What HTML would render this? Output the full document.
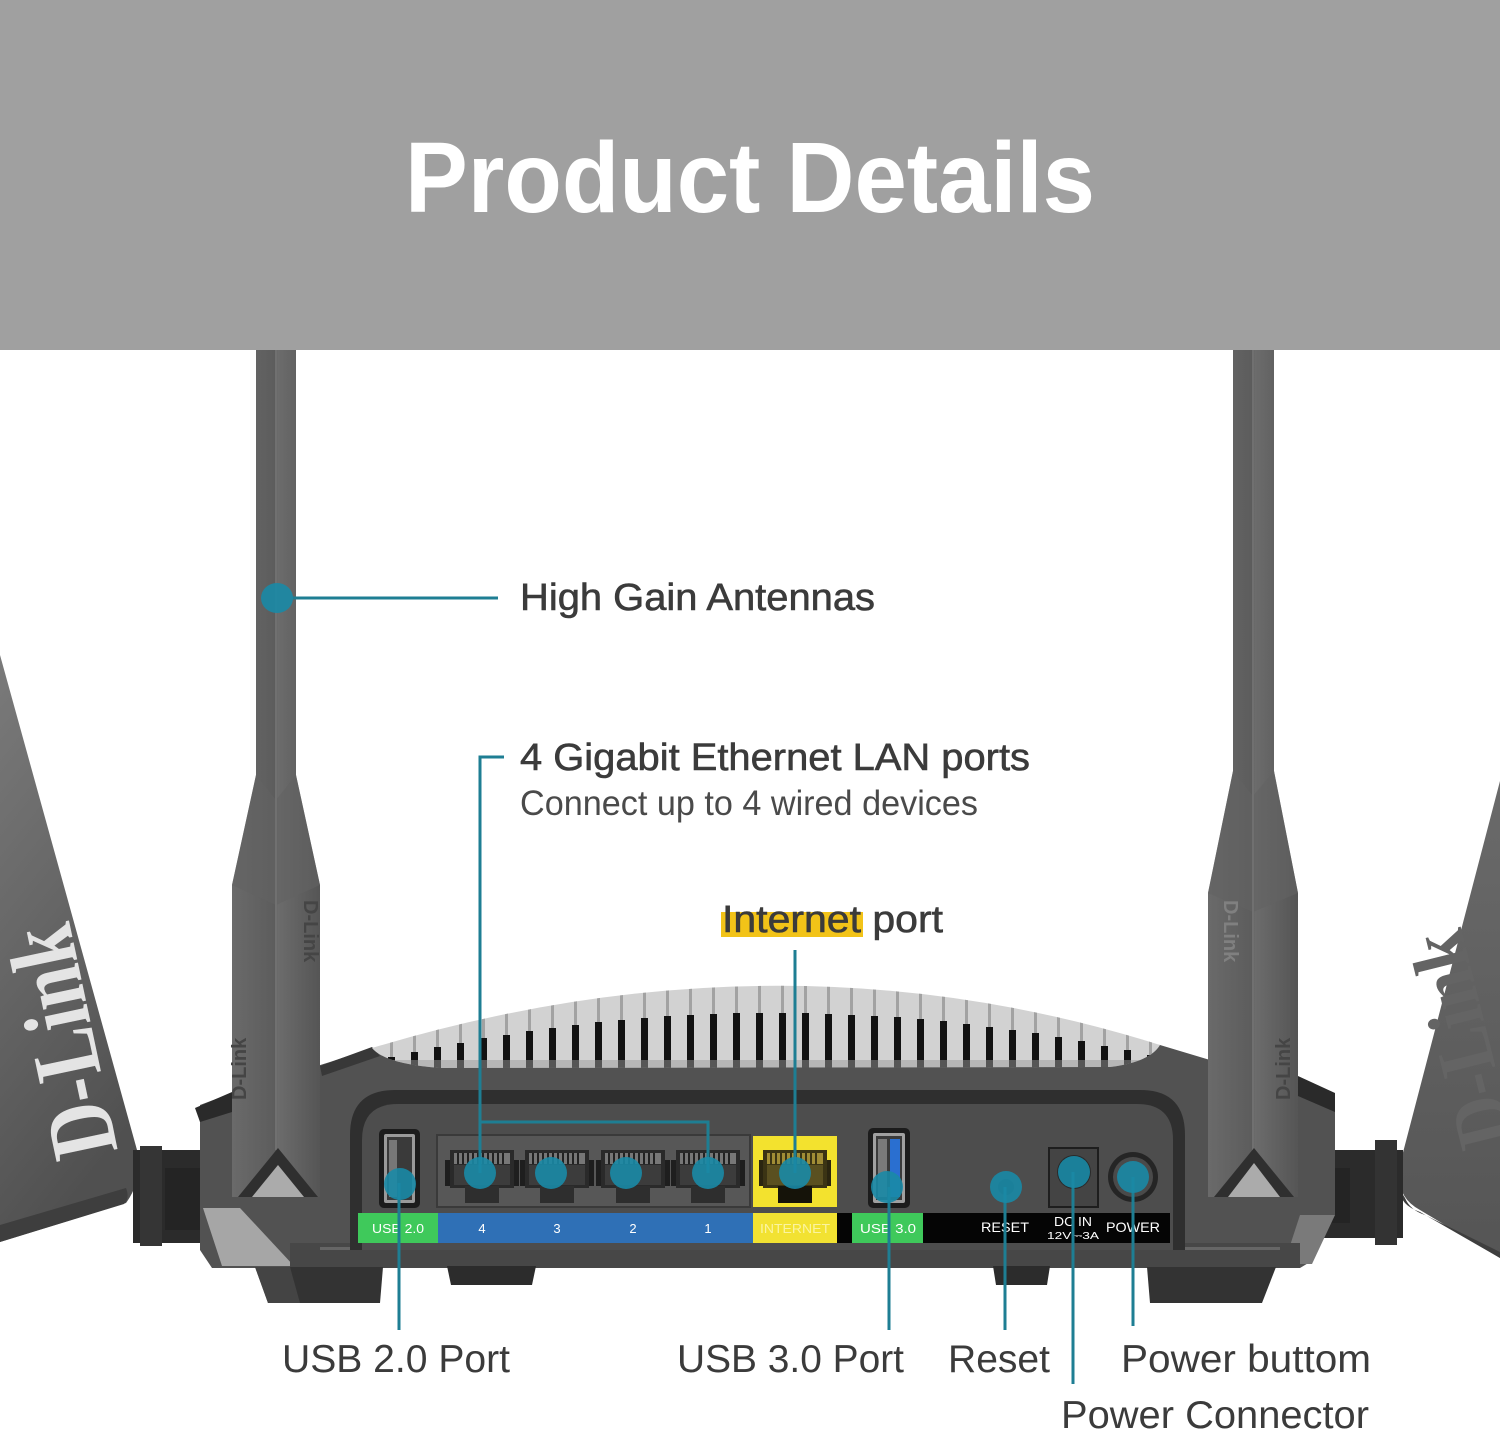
<!DOCTYPE html>
<html><head><meta charset="utf-8"><style>
html,body{margin:0;padding:0;background:#fff;}
svg{display:block;font-family:"Liberation Sans",Arial,sans-serif;}
</style></head><body>
<svg width="1500" height="1431" viewBox="0 0 1500 1431" xmlns="http://www.w3.org/2000/svg">
<defs>
<linearGradient id="lp" x1="0" y1="0" x2="0.3" y2="1"><stop offset="0" stop-color="#7a7a7a"/><stop offset="0.45" stop-color="#686868"/><stop offset="1" stop-color="#505050"/></linearGradient>
<linearGradient id="rp" x1="0" y1="0" x2="0" y2="1"><stop offset="0" stop-color="#6a6a6a"/><stop offset="1" stop-color="#555"/></linearGradient>
<linearGradient id="ant" x1="0" y1="0" x2="1" y2="0"><stop offset="0" stop-color="#6a6a6a"/><stop offset="0.5" stop-color="#5c5c5c"/><stop offset="0.52" stop-color="#6c6c6c"/><stop offset="1" stop-color="#555"/></linearGradient>
<clipPath id="dome"><path d="M372,1048 Q780,925 1160,1045 Q1150,1062 1110,1067 L440,1068 Q385,1064 372,1048 Z"/></clipPath>
<g id="jack">
<rect x="-37" y="1160" width="5" height="26" fill="#1e1e1e"/>
<rect x="32" y="1160" width="5" height="26" fill="#1e1e1e"/>
<rect x="-32" y="1150" width="64" height="38" fill="#2a2a2a"/>
<rect x="-28" y="1153" width="56" height="11" fill="#777"/>
<path d="M-24,1153V1164M-19,1153V1164M-14,1153V1164M-9,1153V1164M-4,1153V1164M1,1153V1164M6,1153V1164M11,1153V1164M16,1153V1164M21,1153V1164" stroke="#222" stroke-width="2"/>
<rect x="-28" y="1165" width="56" height="20" fill="#3c3c3c"/>
<rect x="-17" y="1186" width="34" height="17" fill="#2e2e2e"/>
</g>
</defs>

<!-- banner -->
<rect x="0" y="0" width="1500" height="350" fill="#a0a0a0"/>
<text x="405" y="212" font-size="100" font-weight="bold" fill="#fff" textLength="690" lengthAdjust="spacingAndGlyphs">Product Details</text>

<!-- left paddle antenna -->
<path d="M0,655 L137,1150 Q143,1180 126,1203 L0,1242 Z" fill="url(#lp)"/>
<path d="M0,1225 L126,1188 Q130,1198 124,1204 L0,1242 Z" fill="#3e3e3e"/>
<text transform="translate(62,1042) rotate(-102)" x="0" y="32" text-anchor="middle" font-family="'Liberation Serif','DejaVu Serif',serif" font-weight="bold" font-size="95" fill="#e4e4e4" textLength="235" lengthAdjust="spacingAndGlyphs">D-Link</text>
<!-- left hinge -->
<rect x="133" y="1150" width="67" height="93" fill="#2b2b2b"/>
<rect x="140" y="1146" width="22" height="100" fill="#353535"/>
<rect x="165" y="1168" width="35" height="62" fill="#242424"/>

<!-- right paddle antenna -->
<path d="M1500,781 L1400,1164 Q1394,1196 1420,1210 L1500,1258 Z" fill="url(#rp)"/>
<path d="M1405,1198 Q1410,1210 1425,1215 L1500,1252 L1500,1258 L1420,1212 Q1400,1205 1400,1190 Z" fill="#3e3e3e"/>
<text transform="translate(1460,1040) rotate(-104)" x="0" y="28" text-anchor="middle" font-family="'Liberation Serif','DejaVu Serif',serif" font-weight="bold" font-size="80" fill="#646464" textLength="220" lengthAdjust="spacingAndGlyphs">D-Link</text>
<!-- right hinge -->
<rect x="1300" y="1150" width="103" height="88" fill="#2b2b2b"/>
<rect x="1375" y="1140" width="22" height="105" fill="#333"/>
<rect x="1310" y="1168" width="40" height="55" fill="#242424"/>

<!-- body -->
<path d="M200,1105 L240,1090 L330,1062 L372,1048 L780,1000 L1160,1045 L1210,1060 L1300,1078 L1335,1095 L1335,1215 L1310,1262 L1300,1268 L212,1268 L200,1250 Z" fill="#525252"/>
<path d="M195,1108 L232,1092 L232,1112 L200,1122 Z" fill="#2a2a2a"/>
<path d="M1298,1076 L1335,1093 L1335,1112 L1298,1096 Z" fill="#2a2a2a"/>
<path d="M320,1066 L372,1047 L380,1056 L322,1076 Z" fill="#383838"/>
<!-- lower bevels -->
<path d="M203,1208 L240,1208 L294,1266 L222,1266 Z" fill="#a6a6a6"/>
<path d="M1300,1215 L1335,1215 L1312,1264 L1284,1264 Z" fill="#7a7a7a"/>
<rect x="290" y="1243" width="1010" height="25" fill="#474747"/>
<rect x="320" y="1247" width="960" height="3" fill="#666"/>
<!-- feet -->
<path d="M255,1267 L383,1267 L380,1303 L268,1303 Z" fill="#333"/>
<path d="M255,1267 L290,1267 L300,1303 L268,1303 Z" fill="#444"/>
<path d="M447,1266 L536,1266 L532,1285 L451,1285 Z" fill="#2c2c2c"/>
<path d="M993,1266 L1050,1266 L1047,1285 L996,1285 Z" fill="#2c2c2c"/>
<path d="M1147,1267 L1276,1267 L1262,1303 L1150,1303 Z" fill="#333"/>

<!-- dome vents -->
<g clip-path="url(#dome)">
<rect x="360" y="920" width="820" height="160" fill="#d2d2d2"/>
<g fill="#a2a2a2">
<rect x="390" y="920" width="3" height="150"/><rect x="413" y="920" width="3" height="150"/><rect x="436" y="920" width="3" height="150"/><rect x="459" y="920" width="3" height="150"/><rect x="482" y="920" width="3" height="150"/><rect x="505" y="920" width="3" height="150"/><rect x="528" y="920" width="3" height="150"/><rect x="551" y="920" width="3" height="150"/><rect x="574" y="920" width="3" height="150"/><rect x="597" y="920" width="3" height="150"/><rect x="620" y="920" width="3" height="150"/><rect x="643" y="920" width="3" height="150"/><rect x="666" y="920" width="3" height="150"/><rect x="689" y="920" width="3" height="150"/><rect x="712" y="920" width="3" height="150"/><rect x="735" y="920" width="3" height="150"/><rect x="758" y="920" width="3" height="150"/><rect x="781" y="920" width="3" height="150"/><rect x="804" y="920" width="3" height="150"/><rect x="827" y="920" width="3" height="150"/><rect x="850" y="920" width="3" height="150"/><rect x="873" y="920" width="3" height="150"/><rect x="896" y="920" width="3" height="150"/><rect x="919" y="920" width="3" height="150"/><rect x="942" y="920" width="3" height="150"/><rect x="965" y="920" width="3" height="150"/><rect x="988" y="920" width="3" height="150"/><rect x="1011" y="920" width="3" height="150"/><rect x="1034" y="920" width="3" height="150"/><rect x="1057" y="920" width="3" height="150"/><rect x="1080" y="920" width="3" height="150"/><rect x="1103" y="920" width="3" height="150"/><rect x="1126" y="920" width="3" height="150"/><rect x="1149" y="920" width="3" height="150"/>
</g>
<g fill="#121212">
<rect x="388" y="1057" width="7" height="11"/><rect x="411" y="1052" width="7" height="16"/><rect x="434" y="1047" width="7" height="21"/><rect x="457" y="1043" width="7" height="25"/><rect x="480" y="1038" width="7" height="30"/><rect x="503" y="1035" width="7" height="33"/><rect x="526" y="1031" width="7" height="37"/><rect x="549" y="1028" width="7" height="40"/><rect x="572" y="1025" width="7" height="43"/><rect x="595" y="1022" width="7" height="46"/><rect x="618" y="1020" width="7" height="48"/><rect x="641" y="1018" width="7" height="50"/><rect x="664" y="1016" width="7" height="52"/><rect x="687" y="1015" width="7" height="53"/><rect x="710" y="1014" width="7" height="54"/><rect x="733" y="1013" width="7" height="55"/><rect x="756" y="1013" width="7" height="55"/><rect x="779" y="1013" width="7" height="55"/><rect x="802" y="1013" width="7" height="55"/><rect x="825" y="1014" width="7" height="54"/><rect x="848" y="1015" width="7" height="53"/><rect x="871" y="1016" width="7" height="52"/><rect x="894" y="1017" width="7" height="51"/><rect x="917" y="1019" width="7" height="49"/><rect x="940" y="1021" width="7" height="47"/><rect x="963" y="1024" width="7" height="44"/><rect x="986" y="1027" width="7" height="41"/><rect x="1009" y="1030" width="7" height="38"/><rect x="1032" y="1033" width="7" height="35"/><rect x="1055" y="1037" width="7" height="31"/><rect x="1078" y="1041" width="7" height="27"/><rect x="1101" y="1046" width="7" height="22"/><rect x="1124" y="1050" width="7" height="18"/><rect x="1147" y="1055" width="7" height="13"/>
</g>
<rect x="360" y="1060" width="820" height="10" fill="#9a9a9a" opacity="0.5"/>
</g>

<!-- back panel -->
<path d="M350,1250 L350,1135 Q350,1090 395,1090 L1140,1090 Q1185,1090 1185,1135 L1185,1250 Z" fill="#2f2f2f"/>
<path d="M362,1250 L362,1140 Q362,1104 398,1104 L1137,1104 Q1173,1104 1173,1140 L1173,1250 Z" fill="#4d4d4d"/>

<!-- USB 2.0 port -->
<rect x="379" y="1129" width="41" height="79" rx="5" fill="#1c1c1c"/>
<rect x="384" y="1134" width="31" height="69" rx="2" fill="#9a9a9a"/>
<rect x="387" y="1137" width="25" height="63" fill="#3a3a3a"/>
<rect x="389" y="1140" width="8" height="57" fill="#777"/>

<!-- LAN block -->
<rect x="437" y="1135" width="313" height="72" fill="#575757" stroke="#3a3a3a" stroke-width="2"/>
<use href="#jack" transform="translate(482,0)"/>
<use href="#jack" transform="translate(557,0)"/>
<use href="#jack" transform="translate(633,0)"/>
<use href="#jack" transform="translate(708,0)"/>

<!-- Internet block -->
<rect x="753" y="1136" width="84" height="71" fill="#f3e22e"/>
<rect x="759" y="1160" width="5" height="26" fill="#2a2510"/>
<rect x="826" y="1160" width="5" height="26" fill="#2a2510"/>
<rect x="763" y="1150" width="64" height="38" fill="#3b3414"/>
<rect x="767" y="1153" width="56" height="11" fill="#a08c35"/>
<path d="M771,1153V1164M776,1153V1164M781,1153V1164M786,1153V1164M791,1153V1164M796,1153V1164M801,1153V1164M806,1153V1164M811,1153V1164M816,1153V1164" stroke="#3b3414" stroke-width="2"/>
<rect x="767" y="1165" width="56" height="20" fill="#5a5020"/>
<rect x="778" y="1186" width="34" height="17" fill="#151309"/>

<!-- USB 3.0 port -->
<rect x="868" y="1128" width="42" height="80" rx="5" fill="#1c1c1c"/>
<rect x="873" y="1133" width="32" height="70" rx="2" fill="#a0a0a0"/>
<rect x="876" y="1136" width="26" height="64" fill="#3a3a3a"/>
<rect x="878" y="1139" width="9" height="58" fill="#7a7a7a"/>
<rect x="890" y="1139" width="10" height="58" fill="#2a6fd0"/>

<!-- reset / dc / power -->
<circle cx="1006" cy="1187" r="8" fill="#2a2a2a"/>
<rect x="1049" y="1148" width="49" height="59" fill="#444" stroke="#1e1e1e" stroke-width="2"/>
<circle cx="1074" cy="1172" r="17" fill="#2a2a2a"/>
<circle cx="1133" cy="1177" r="25" fill="#252525"/>
<circle cx="1133" cy="1177" r="20" fill="#4a4a4a"/>

<!-- label strip -->
<rect x="358" y="1213" width="80" height="30" fill="#3fc95b"/>
<rect x="438" y="1213" width="315" height="30" fill="#2f70b6"/>
<rect x="753" y="1213" width="84" height="30" fill="#f2e232"/>
<rect x="837" y="1213" width="15" height="30" fill="#050505"/>
<rect x="852" y="1213" width="71" height="30" fill="#3fc95b"/>
<rect x="923" y="1213" width="247" height="30" fill="#050505"/>
<g font-size="13" fill="#fff" text-anchor="middle">
<text x="398" y="1233" textLength="52" lengthAdjust="spacingAndGlyphs">USB 2.0</text>
<text x="482" y="1233">4</text>
<text x="557" y="1233">3</text>
<text x="633" y="1233">2</text>
<text x="708" y="1233">1</text>
<text x="795" y="1233" fill="#fbf4a0" textLength="70" lengthAdjust="spacingAndGlyphs">INTERNET</text>
<text x="888" y="1233" textLength="56" lengthAdjust="spacingAndGlyphs">USB 3.0</text>
<text x="1005" y="1232" font-size="14" textLength="48" lengthAdjust="spacingAndGlyphs">RESET</text>
<text x="1073" y="1226" font-size="13" textLength="38" lengthAdjust="spacingAndGlyphs">DC IN</text>
<text x="1073" y="1239" font-size="10" font-family="'Liberation Sans','DejaVu Sans',sans-serif" textLength="52" lengthAdjust="spacingAndGlyphs">12V⎓3A</text>
<text x="1133" y="1232" font-size="14" textLength="54" lengthAdjust="spacingAndGlyphs">POWER</text>
</g>

<!-- left antenna -->
<path d="M256,350 L296,350 L296,775 L320,885 L320,1197 L232,1197 L232,885 L256,775 Z" fill="url(#ant)"/>
<path d="M256,775 L276,800 L296,775 L320,885 L276,905 L232,885 Z" fill="#636363" opacity="0.6"/>
<line x1="276" y1="350" x2="276" y2="1150" stroke="#707070" stroke-width="2"/>
<text transform="translate(246,1100) rotate(-90)" font-size="20" font-weight="bold" fill="#454545">D-Link</text>
<text transform="translate(304,900) rotate(90)" font-size="20" font-weight="bold" fill="#454545">D-Link</text>
<path d="M238,1197 L278,1148 L318,1197 Z" fill="#2f2f2f"/>
<path d="M252,1197 L278,1165 L304,1197 Z" fill="#ababab"/>

<!-- right antenna -->
<path d="M1233,350 L1274,350 L1274,771 L1298,893 L1298,1197 L1208,1197 L1208,893 L1233,771 Z" fill="url(#ant)"/>
<path d="M1233,771 L1253,796 L1274,771 L1298,893 L1253,912 L1208,893 Z" fill="#636363" opacity="0.6"/>
<line x1="1253" y1="350" x2="1253" y2="1150" stroke="#707070" stroke-width="2"/>
<text transform="translate(1224,900) rotate(90)" font-size="20" font-weight="bold" fill="#808080">D-Link</text>
<text transform="translate(1290,1100) rotate(-90)" font-size="20" font-weight="bold" fill="#454545">D-Link</text>
<path d="M1214,1197 L1254,1148 L1294,1197 Z" fill="#2f2f2f"/>
<path d="M1228,1197 L1254,1163 L1280,1197 Z" fill="#ababab"/>

<!-- callout lines -->
<g stroke="#1e7e93" stroke-width="3" fill="none">
<line x1="292" y1="598" x2="498" y2="598"/>
<path d="M504,757 H480 V1173 M480,1122 H708 V1173"/>
<line x1="795" y1="950" x2="795" y2="1173"/>
<line x1="399" y1="1183" x2="399" y2="1330"/>
<line x1="889" y1="1187" x2="889" y2="1330"/>
<line x1="1005" y1="1187" x2="1005" y2="1330"/>
<line x1="1073" y1="1172" x2="1073" y2="1384"/>
<line x1="1133" y1="1177" x2="1133" y2="1326"/>
</g>
<!-- dots -->
<g fill="#1a8aa6" fill-opacity="0.9">
<ellipse cx="277" cy="598" rx="16" ry="15"/>
<circle cx="480" cy="1173" r="16"/>
<circle cx="551" cy="1173" r="16"/>
<circle cx="626" cy="1173" r="16"/>
<circle cx="708" cy="1173" r="16"/>
<circle cx="795" cy="1173" r="16"/>
<circle cx="400" cy="1184" r="16"/>
<circle cx="887" cy="1187" r="16"/>
<circle cx="1006" cy="1187" r="16"/>
<circle cx="1074" cy="1172" r="16"/>
<circle cx="1133" cy="1177" r="16"/>
</g>

<!-- labels -->
<text x="520" y="610" font-size="38" fill="#3b3b3b" stroke="#3b3b3b" stroke-width="0.6" textLength="355" lengthAdjust="spacingAndGlyphs">High Gain Antennas</text>
<text x="520" y="770" font-size="38" fill="#3b3b3b" stroke="#3b3b3b" stroke-width="0.6" textLength="510" lengthAdjust="spacingAndGlyphs">4 Gigabit Ethernet LAN ports</text>
<text x="520" y="815" font-size="35" fill="#4a4a4a" textLength="458" lengthAdjust="spacingAndGlyphs">Connect up to 4 wired devices</text>
<rect x="721" y="912" width="142" height="25" fill="#f2c318"/>
<text x="722" y="932" font-size="38" fill="#3b3b3b" stroke="#3b3b3b" stroke-width="0.6" textLength="221" lengthAdjust="spacingAndGlyphs">Internet port</text>

<g font-size="39" fill="#3b3b3b">
<text x="282" y="1372" textLength="228" lengthAdjust="spacingAndGlyphs">USB 2.0 Port</text>
<text x="677" y="1372" textLength="227" lengthAdjust="spacingAndGlyphs">USB 3.0 Port</text>
<text x="948" y="1372" textLength="102" lengthAdjust="spacingAndGlyphs">Reset</text>
<text x="1121" y="1372" textLength="250" lengthAdjust="spacingAndGlyphs">Power buttom</text>
<text x="1061" y="1428" textLength="308" lengthAdjust="spacingAndGlyphs">Power Connector</text>
</g>
</svg>
</body></html>
